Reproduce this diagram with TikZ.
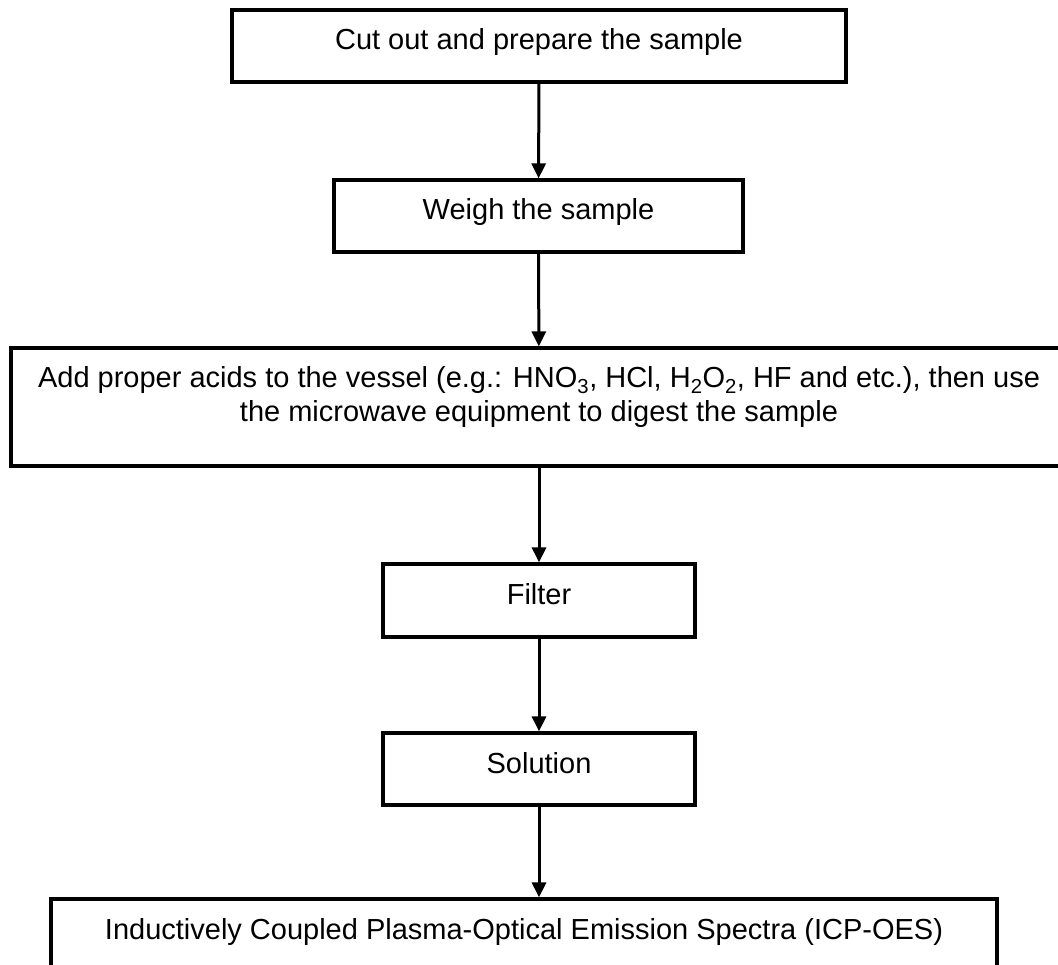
\documentclass[tikz,border=0pt]{standalone}
\usepackage{fontspec}
\setmainfont{Liberation Sans}
\usetikzlibrary{arrows.meta}
\tikzset{
    procbox/.style  = {draw=black, line width=3.2pt, fill=white, inner sep=0pt,
                       font=\fontsize{29}{33.5}\selectfont, text height=21pt, text depth=13pt},
    toptext/.style  = {text depth=59pt},
    flowarrow/.style= {line width=3pt, -{Triangle[length=15pt,width=14pt]}}
}

\begin{document}
\begin{tikzpicture}[x=1pt, y=-1pt]
            \useasboundingbox (0,0) rectangle (1058,965);
            % steps
            \node[procbox, minimum width= 614pt, minimum height= 72pt] (cut)      at (539.0,  46.0) {Cut out and prepare the sample};
            \node[procbox, minimum width= 409pt, minimum height= 72pt] (weigh)    at (538.5, 216.0) {Weigh the sample};
            \node[procbox, toptext, minimum width=1056pt, minimum height=118pt] (digest) at (539.0, 407.0)
                 {\begin{tabular}[t]{@{}c@{}}Add proper acids to the vessel (e.g.: HNO\textsubscript{3}, HCl, H\textsubscript{2}O\textsubscript{2}, HF and etc.), then use\\
                  the microwave equipment to digest the sample\end{tabular}};
            \node[procbox, minimum width= 312pt, minimum height= 73pt] (filter)   at (539.0, 600.5) {Filter};
            \node[procbox, minimum width= 312pt, minimum height= 72pt] (solution) at (539.0, 769.0) {Solution};
            \node[procbox, toptext, minimum width= 946pt, minimum height=118pt] (icp) at (524.0, 958.0)
                 {Inductively Coupled Plasma-Optical Emission Spectra (ICP-OES)};
            % arrows
            \draw[flowarrow] (cut)      -- (weigh);
            \draw[flowarrow] (weigh)    -- (digest);
            \draw[flowarrow] (digest)   -- (filter);
            \draw[flowarrow] (filter)   -- (solution);
            \draw[flowarrow] (solution) -- (solution |- icp.north);
        \end{tikzpicture}
\end{document}
